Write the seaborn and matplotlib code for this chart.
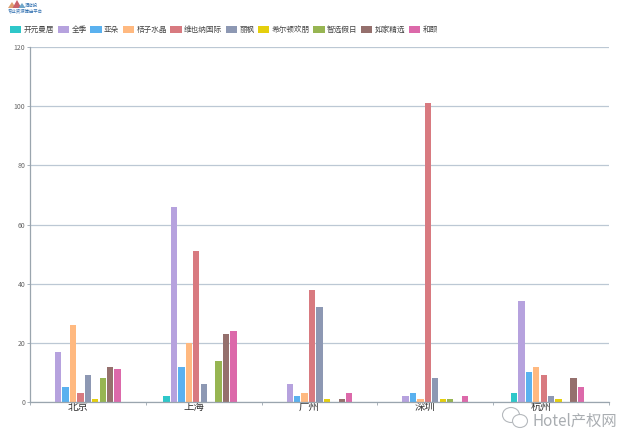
import pandas as pd
import seaborn as sns
import matplotlib.pyplot as plt
from matplotlib.patches import Patch, Polygon, Ellipse
from matplotlib.transforms import ScaledTranslation

# -----------------------------------------------------------------------------
# Data
cities = ['北京', '上海', '广州', '深圳', '杭州']
brands = ['开元曼居', '全季', '亚朵', '桔子水晶', '维也纳国际', '丽枫', '希尔顿欢朋', '智选假日', '如家精选', '和颐']
kaiyuan = [0, 2, 0, 0, 3]
quanji = [17, 66, 6, 2, 34]
yaduo = [5, 12, 2, 3, 10]
juzi = [26, 20, 3, 1, 12]
weiyena = [3, 51, 38, 101, 9]
lifeng = [9, 6, 32, 8, 2]
hilton = [1, 0, 1, 1, 1]
zhixuan = [8, 14, 0, 1, 0]
rujia = [12, 23, 1, 0, 8]
heyi = [11, 24, 3, 2, 5]
series = [kaiyuan, quanji, yaduo, juzi, weiyena, lifeng, hilton, zhixuan, rujia, heyi]
colors = ['#2ec7c9', '#b6a2de', '#5ab1ef', '#ffb980', '#d87a80',
          '#8d98b3', '#e5cf0d', '#97b552', '#95706d', '#dc69aa']

rows = []
for brand, vals in zip(brands, series):
    for city, v in zip(cities, vals):
        rows.append({'city': city, 'brand': brand, 'count': v})
df = pd.DataFrame(rows)

# -----------------------------------------------------------------------------
# Plot
sns.set_theme(style='white')
plt.rcParams['font.family'] = ['Noto Sans CJK SC', 'DejaVu Sans']

fig = plt.figure(figsize=(6.4, 4.47), dpi=100)
ax = fig.add_axes([30 / 640, 1 - 402 / 447, 579 / 640, 355 / 447])

# the original chart has an 11th, unnamed series: it keeps the groups off centre
palette = dict(zip(brands, colors))
palette[' '] = '#ffffff'
sns.barplot(data=df, x='city', y='count', hue='brand', hue_order=brands + [' '],
            order=cities, palette=palette, width=0.706, gap=0.15, saturation=1,
            linewidth=0, legend=False, ax=ax)

ax.set_xlim(-0.5, 4.5)
ax.set_ylim(0, 120)
ax.set_yticks(range(0, 121, 20))
ax.set_xlabel('')
ax.set_ylabel('')
ax.yaxis.grid(True, color='#bcc8d4', linewidth=0.9)
ax.set_axisbelow(True)
ax.spines['top'].set_visible(False)
ax.spines['right'].set_visible(False)
for side in ['left', 'bottom']:
    ax.spines[side].set_color('#9aa5ae')
    ax.spines[side].set_linewidth(0.9)

ax.tick_params(axis='y', labelsize=5, labelcolor='#666666', length=2, width=0.6,
               color='#9aa5ae', pad=1.5, left=True)
ax.tick_params(axis='x', labelsize=7.5, labelcolor='#333333', length=0, pad=0)
ax.set_xticks([i - 0.5 for i in range(6)], minor=True)
ax.tick_params(axis='x', which='minor', length=2, width=0.6, color='#9aa5ae', bottom=True)

# city names sit about 10px left of the group centre in the original
shift = ScaledTranslation(-10 / 100, 0, fig.dpi_scale_trans)
for lab in ax.get_xticklabels():
    lab.set_transform(lab.get_transform() + shift)

handles = [Patch(facecolor=c, edgecolor='none', label=b) for b, c in zip(brands, colors)]
fig.legend(handles=handles, ncol=10, loc='center left', bbox_to_anchor=(10 / 640, 1 - 30 / 447),
           fontsize=5.5, frameon=False, handlelength=1.5, handleheight=0.9,
           handletextpad=0.3, columnspacing=0.45, borderpad=0, borderaxespad=0,
           labelcolor='#444444')

# logo, top left
for x, w, h, c in [(12, 8, 6, '#e0a070'), (17, 9, 8, '#c9626a'), (22, 7, 5, '#6fa6c9')]:
    fig.add_artist(Polygon([((x - w / 2) / 640, 1 - 8 / 447), (x / 640, 1 - (8 - h) / 447),
                            ((x + w / 2) / 640, 1 - 8 / 447)], transform=fig.transFigure,
                           facecolor=c, edgecolor='none'))
fig.text(25 / 640, 1 - 5 / 447, '酒店投', fontsize=3.2, color='#2f6fb0', va='center')
fig.text(8 / 640, 1 - 11 / 447, '专业资源输出平台', fontsize=3.2, color='#2f6fb0', va='center')

# watermark, bottom right
fig.add_artist(Ellipse((511 / 640, 1 - 415 / 447), 17 / 640, 15 / 447, transform=fig.transFigure,
                       facecolor='none', edgecolor='#b5b9bd', linewidth=0.8))
fig.add_artist(Ellipse((520 / 640, 1 - 421 / 447), 15 / 640, 13 / 447, transform=fig.transFigure,
                       facecolor='#ffffff', edgecolor='#b5b9bd', linewidth=0.8))
fig.text(533 / 640, 1 - 421 / 447, 'Hotel产权网', fontsize=11, color='#a9adb1', va='center')

fig.savefig('out.png', dpi=100)
plt.close(fig)
